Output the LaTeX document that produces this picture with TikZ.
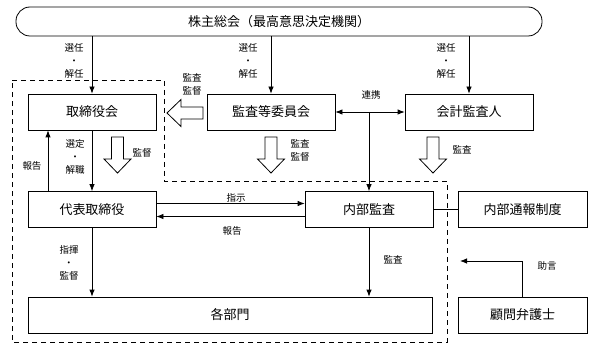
\documentclass[tikz,border=0pt]{standalone}
\usepackage{fontspec}
\setmainfont{Noto Sans CJK JP}
\usetikzlibrary{calc, positioning, arrows.meta}

\tikzset{
    bx/.style={draw, line width=0.8pt, minimum width=128, minimum height=36,
        inner sep=0, font=\fontsize{13}{15}\selectfont},
    lbl/.style={align=center, inner sep=0, font=\fontsize{9.5}{13}\selectfont},
    hollowarrow/.pic={
        \draw[line width=0.8pt, fill=white] (-6,0) -- (6,0) -- (6,22) -- (13.5,22)
            -- (0,36) -- (-13.5,22) -- (-6,22) -- cycle;
    },
}

\begin{document}
\begin{tikzpicture}[>={Latex[length=7pt,width=5.5pt]}, x=1pt, y=-1pt, line width=0.8pt]
    \useasboundingbox (0,0) rectangle (600,350);

    % 株主総会
    \node[bx, minimum width=526, minimum height=29, rounded corners=14pt] (kabu) at (279,21.5)
        {株主総会（最高意思決定機関）};

    % 内部統制の範囲
    \draw[dash pattern=on 5pt off 4pt] (12,80) -- (164,80) -- (164,181) -- (447,181)
        -- (447,342) -- (12,342) -- cycle;

    % 各機関
    \node[bx] (kt) at (92,112) {取締役会};
    \node[bx] (ka) at (271,112) {監査等委員会};
    \node[bx] (kk) at (469,112) {会計監査人};
    \node[bx] (dt) at (92,209.5) {代表取締役};
    \node[bx] (ng) at (369,209.5) {内部監査};
    \node[bx, minimum width=129] (nt) at (522.5,209.5) {内部通報制度};
    \node[bx, minimum width=404] (bm) at (230,315) {各部門};
    \node[bx, minimum width=129] (kb) at (522.5,315) {顧問弁護士};

    % 白抜き矢印
    \pic (h1) at (117.5,137) {hollowarrow};
    \pic[rotate=-90] (h2) at (203,113) {hollowarrow};
    \pic (h3) at (271,137) {hollowarrow};
    \pic (h4) at (433,137) {hollowarrow};

    % 矢印
    \draw[->] (kt.north |- kabu.south) -- (kt.north);
    \draw[->] (ka.north |- kabu.south) -- (ka.north);
    \draw[->] (kk.north |- kabu.south) -- (kk.north);
    \draw[<->] (ka.east) -- (kk.west);
    \coordinate (renkei) at (ng.north |- ka.east);
    \draw[->] (renkei) -- (ng.north);
    \draw[->] (kt.south) -- (dt.north);
    \draw[->] ([xshift=-44pt]dt.north) -- ([xshift=-44pt]kt.south);
    \draw[->] ([yshift=6pt]dt.east) -- ([yshift=6pt]ng.west);
    \draw[<-] ([yshift=-7pt]dt.east) -- ([yshift=-7pt]ng.west);
    \draw[->] (dt.south) -- (dt.south |- bm.north);
    \draw[->] (ng.south) -- (ng.south |- bm.north);
    \draw (ng.east) -- (nt.west);
    \coordinate (jogen) at (460,261);
    \draw[->] (kb.north) |- (jogen);

    % ラベル
    \node[lbl] (l1) at (74,61) {選任\\・\\解任};
    \node[lbl] (l2) at (248,61) {選任\\・\\解任};
    \node[lbl] (l3) at (446,61) {選任\\・\\解任};
    \node[lbl] (l4) at (192,84) {監査\\監督};
    \node[lbl] (l5) at (371,95) {連携};
    \node[lbl] (l6) at (75,157) {選定\\・\\解職};
    \node[lbl] (l7) at (32,166) {報告};
    \node[lbl] (l8) at (142,153) {監督};
    \node[lbl] (l9) at (300,150) {監査\\監督};
    \node[lbl] (l10) at (462,150) {監査};
    \node[lbl] (l11) at (236,198) {指示};
    \node[lbl] (l12) at (232,231) {報告};
    \node[lbl] (l13) at (69,263) {指揮\\・\\監督};
    \node[lbl] (l14) at (393,260) {監査};
    \node[lbl] (l15) at (547,266) {助言};
\end{tikzpicture}
\end{document}
